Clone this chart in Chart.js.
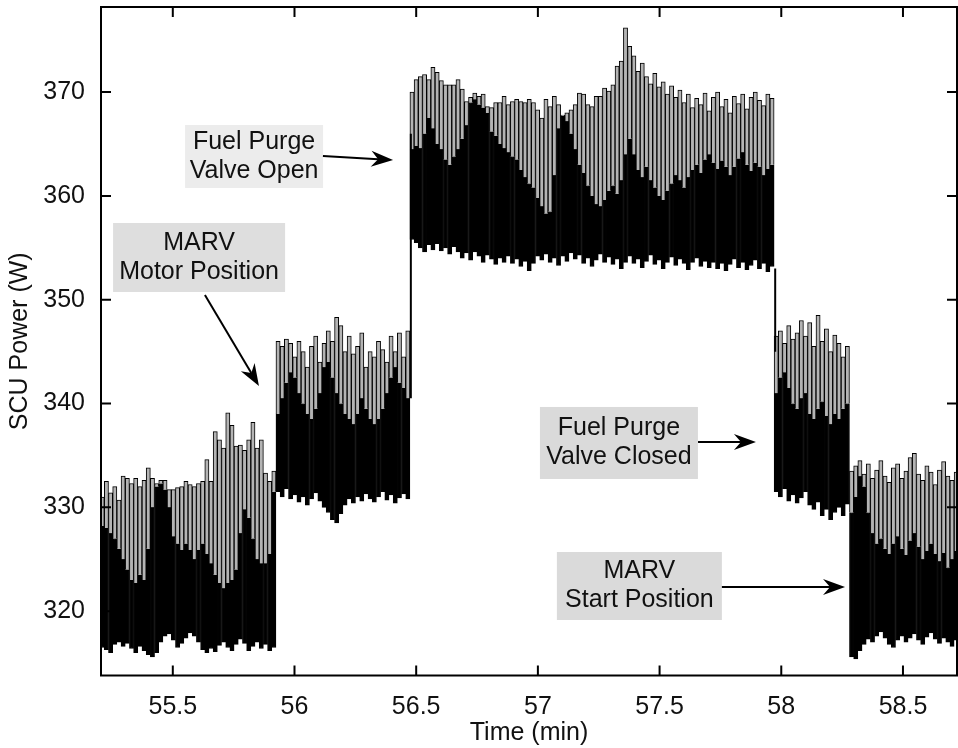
<!DOCTYPE html>
<html><head><meta charset="utf-8">
<script src="https://cdn.jsdelivr.net/npm/chart.js@4/dist/chart.umd.min.js"></script>
<style>html,body{margin:0;padding:0;background:#fff;}#wrap{width:958px;height:748px;}</style>
</head><body><div id="wrap"><canvas id="c" width="958" height="748"></canvas></div>
<script>
// Sampling grid of the recorded signal (minutes)
const T_START = 55.21;
const T_STEP = 0.0172;

// Axis ticks
const X_TICKS = [55.5, 56, 56.5, 57, 57.5, 58, 58.5];
const Y_TICKS = [320, 330, 340, 350, 360, 370];

// Peak of each spike (W)
const spikeTop = [
  // MARV start position
  331.0,332.5,331.4,332.0,330.7,333.0,332.8,332.3,332.8,332.0,332.6,333.8,332.8,332.3,332.6,332.6,331.7,331.7,331.9,332.0,
  332.5,332.2,332.0,332.3,332.5,334.6,332.5,337.3,336.5,335.7,339.1,337.9,335.9,336.0,335.5,336.5,338.2,335.7,336.5,333.3,
  332.5,333.5,
  // MARV motor position
  346.0,345.5,346.2,345.8,344.5,346.0,345.0,343.5,345.5,346.5,344.0,345.8,347.0,346.0,348.3,347.5,345.0,346.5,344.8,345.5,
  346.8,343.5,345.0,344.5,346.0,345.2,344.0,346.5,345.0,346.8,344.5,347.0,
  // fuel purge valve open
  370.0,
  371.2,371.5,371.7,371.2,372.4,371.9,371.1,370.7,370.7,370.7,371.2,370.3,369.1,369.5,369.9,369.6,369.8,368.6,368.5,369.0,
  369.0,369.6,368.8,369.1,369.3,369.1,369.0,369.3,369.0,368.3,367.5,369.3,368.6,369.6,368.8,367.8,368.0,368.3,368.8,369.9,
  369.8,368.8,368.6,369.6,369.6,370.4,370.1,370.7,372.5,373.0,376.2,374.4,
  373.5,372.0,372.8,371.5,370.8,371.8,370.5,371.0,369.8,370.6,369.5,370.2,369.0,369.8,368.5,369.4,368.8,369.9,368.2,369.5,
  370.0,368.6,369.3,368.0,369.6,368.9,369.8,368.4,369.5,370.0,369.2,368.7,369.8,369.4,
  // fuel purge valve closed
  346.5,347.0,345.8,347.5,346.2,346.8,348.0,346.5,347.8,345.5,348.5,346.0,347.2,345.0,346.6,345.8,344.5,345.5,
  // MARV start position
  333.5,334.0,334.5,333.2,334.2,332.8,333.6,334.5,333.0,332.4,333.8,334.2,332.8,333.5,334.8,335.2,333.2,332.6,334.0,333.4,
  332.2,333.6,334.4,333.0,332.6,333.4
];

// Upper edge of the dense (solid) part of the trace (W)
const bandTop = [
  328.2,328.0,327.5,327.0,326.0,325.0,324.0,323.0,322.7,323.5,323.0,326.0,330.0,332.0,332.3,331.7,330.0,327.2,326.5,325.9,
  326.5,325.9,325.0,325.9,326.5,325.5,324.6,323.5,322.7,322.2,322.7,323.0,324.0,327.5,329.8,329.0,327.0,325.0,324.6,324.6,
  325.5,331.5,
  339.0,340.5,342.0,343.0,342.5,341.0,340.0,339.0,338.5,339.5,341.0,343.5,344.0,342.5,341.0,340.0,339.0,338.5,338.0,339.0,
  340.5,339.5,338.5,338.0,338.5,339.5,341.0,342.5,343.5,342.0,341.5,340.5,
  364.5,364.8,364.6,366.0,367.5,366.5,365.0,364.5,363.5,363.0,363.8,364.5,365.5,366.8,369.0,369.3,368.8,368.5,368.0,366.2,
  365.8,365.0,364.6,364.2,363.8,363.5,362.5,361.8,361.2,360.8,359.8,359.0,358.3,358.5,362.0,366.5,367.7,367.2,366.0,364.5,
  363.0,362.2,361.0,360.0,359.2,359.0,359.6,360.5,361.0,360.2,361.5,364.0,365.5,364.0,362.5,361.8,362.8,361.5,360.8,360.0,
  359.6,360.5,361.2,362.0,361.5,360.8,361.8,362.5,363.0,362.2,363.5,364.0,363.2,362.6,363.4,362.8,362.0,362.8,363.6,364.2,
  363.0,362.4,363.2,362.8,362.0,362.6,363.0,
  341.0,342.5,343.0,341.5,340.0,339.5,340.5,341.0,339.0,338.5,339.5,340.2,338.8,338.0,339.0,338.5,339.5,340.0,
  329.5,331.0,333.0,332.0,329.5,327.5,326.5,327.0,326.0,325.5,326.5,327.2,326.0,325.4,326.8,327.5,326.2,325.0,325.8,326.5,
  325.5,324.8,325.6,324.2,325.0,325.8
];

// Lower edge of the trace (W)
const bandLow = [
  316.5,316.3,316.0,316.8,317.0,316.6,316.9,316.4,316.0,316.6,316.2,315.8,315.6,316.0,317.0,317.6,317.8,317.2,316.5,316.9,
  317.4,317.9,317.6,317.0,316.3,316.0,316.4,316.1,316.7,317.0,316.5,316.2,316.8,317.3,316.9,316.2,316.6,317.0,316.4,316.8,
  316.2,316.5,
  331.5,331.0,331.8,330.8,331.2,330.5,331.0,330.2,330.8,331.4,330.6,330.0,329.5,328.8,328.5,329.4,330.2,330.8,330.4,331.0,
  330.6,331.3,330.8,330.5,331.0,331.5,330.7,331.2,330.4,330.9,331.3,330.8,
  355.8,355.5,355.0,354.6,355.3,354.8,355.4,354.7,355.0,354.4,355.1,354.6,354.0,354.5,353.8,354.6,354.2,353.6,354.3,353.9,
  353.4,354.0,353.6,354.2,353.5,353.9,353.2,353.7,352.8,353.5,354.2,353.8,354.4,353.6,354.0,353.3,354.2,353.7,354.5,353.9,
  354.3,353.5,354.0,353.2,353.8,354.4,353.6,354.1,353.4,353.9,353.0,353.6,354.2,353.5,353.9,353.1,353.7,354.3,353.4,353.8,
  353.0,353.6,354.1,353.3,353.9,353.5,352.9,353.6,354.0,353.2,353.7,353.1,353.6,353.0,353.5,352.8,353.4,353.9,353.1,353.6,
  352.9,353.3,353.8,353.0,353.5,352.7,353.2,
  331.5,331.0,331.8,330.6,331.2,330.4,330.9,331.5,330.2,329.8,330.5,329.2,329.8,328.8,329.5,330.0,329.2,330.3,
  315.6,315.4,316.2,316.8,317.3,317.0,317.6,318.0,317.4,316.8,316.5,317.2,317.6,317.0,317.4,317.8,317.2,316.8,317.5,317.9,
  317.3,316.9,317.4,317.0,316.6,317.2
];

// Step transitions of the trace (time, from, to)
const jumpTimes = [56.478, 57.975];
const jumpFrom = [340.5, 353.0];
const jumpTo = [366.0, 345.0];

// Annotations (anchored in data units)
const NOTES = [
  {lines:['Fuel Purge','Valve Open'], at:[55.834,363.8], size:[138,63], fill:'#ececec', from:[56.117,363.85], to:[56.405,363.46]},
  {lines:['MARV','Motor Position'], at:[55.608,354.07], size:[172,69], fill:'#dedede', from:[55.632,350.45], to:[55.854,341.69]},
  {lines:['Fuel Purge','Valve Closed'], at:[57.333,336.2], size:[158,72], fill:'#dadada', from:[57.658,336.29], to:[57.896,336.29]},
  {lines:['MARV','Start Position'], at:[57.417,322.42], size:[165,68], fill:'#dadada', from:[57.756,322.32], to:[58.262,322.32]}
];

const time = spikeTop.map((_, i) => +(T_START + i * T_STEP).toFixed(4));
const bandData = time.map((t, i) => ({x: t, y: [bandLow[i], bandTop[i]]}));
const spikeData = time.map((t, i) => ({x: t, y: [bandTop[i], spikeTop[i]]}));
const jumpData = [];
jumpTimes.forEach((t, i) => { jumpData.push({x: t, y: jumpFrom[i]}, {x: t, y: jumpTo[i]}, {x: t, y: null}); });

const FONT = '"Liberation Sans", Arial, Helvetica, sans-serif';

const framePlugin = {
  id: 'frame',
  afterDatasetsDraw(chart) {
    const {ctx, chartArea: a, scales: {x, y}} = chart;
    ctx.save();
    ctx.strokeStyle = '#000';
    ctx.lineWidth = 2;
    ctx.beginPath();
    X_TICKS.forEach(v => {
      const px = x.getPixelForValue(v);
      ctx.moveTo(px, a.bottom); ctx.lineTo(px, a.bottom - 10);
      ctx.moveTo(px, a.top); ctx.lineTo(px, a.top + 10);
    });
    Y_TICKS.forEach(v => {
      const py = y.getPixelForValue(v);
      ctx.moveTo(a.left, py); ctx.lineTo(a.left + 10, py);
      ctx.moveTo(a.right, py); ctx.lineTo(a.right - 10, py);
    });
    ctx.stroke();
    ctx.strokeRect(a.left, a.top, a.right - a.left, a.bottom - a.top);
    ctx.restore();
  }
};

const notesPlugin = {
  id: 'notes',
  afterDraw(chart) {
    const {ctx, scales: {x, y}} = chart;
    ctx.save();
    NOTES.forEach(n => {
      const cx = x.getPixelForValue(n.at[0]), cy = y.getPixelForValue(n.at[1]);
      ctx.fillStyle = n.fill;
      ctx.fillRect(cx - n.size[0] / 2, cy - n.size[1] / 2, n.size[0], n.size[1]);
      ctx.fillStyle = '#111';
      ctx.font = '25px ' + FONT;
      ctx.textAlign = 'center';
      ctx.textBaseline = 'middle';
      n.lines.forEach((s, k) => ctx.fillText(s, cx, cy + (k - (n.lines.length - 1) / 2) * 29));
      const x0 = x.getPixelForValue(n.from[0]), y0 = y.getPixelForValue(n.from[1]);
      const x1 = x.getPixelForValue(n.to[0]), y1 = y.getPixelForValue(n.to[1]);
      const ang = Math.atan2(y1 - y0, x1 - x0);
      const L = 22, W = 8, N = 7;
      const cos = Math.cos(ang), sin = Math.sin(ang);
      ctx.strokeStyle = '#000';
      ctx.lineWidth = 2;
      ctx.beginPath();
      ctx.moveTo(x0, y0);
      ctx.lineTo(x1 - cos * (L - N), y1 - sin * (L - N));
      ctx.stroke();
      ctx.fillStyle = '#000';
      ctx.beginPath();
      ctx.moveTo(x1, y1);
      ctx.lineTo(x1 - cos * L - sin * W, y1 - sin * L + cos * W);
      ctx.lineTo(x1 - cos * (L - N), y1 - sin * (L - N));
      ctx.lineTo(x1 - cos * L + sin * W, y1 - sin * L - cos * W);
      ctx.closePath();
      ctx.fill();
    });
    ctx.restore();
  }
};

new Chart(document.getElementById('c'), {
  type: 'bar',
  data: {
    datasets: [
      {type: 'line', data: jumpData, borderColor: '#000', borderWidth: 2, pointRadius: 0, spanGaps: false, order: 0, clip: 0},
      {type: 'bar', data: spikeData, backgroundColor: '#b4b4b4', borderColor: '#000',
       borderWidth: {left: 1, right: 1, top: 1, bottom: 0}, borderSkipped: false,
       barPercentage: 1, categoryPercentage: 1, grouped: false, order: 1, clip: 0},
      {type: 'bar', data: bandData, backgroundColor: '#000', borderColor: '#000', borderWidth: 1, borderSkipped: false,
       barPercentage: 1, categoryPercentage: 1, grouped: false, order: 2, clip: 0}
    ]
  },
  options: {
    responsive: false,
    devicePixelRatio: 1,
    animation: false,
    layout: {padding: {top: 7, right: 1, left: 0, bottom: 0}},
    plugins: {legend: {display: false}, tooltip: {enabled: false}},
    scales: {
      x: {
        type: 'linear', min: 55.205, max: 58.722, offset: false,
        grid: {display: false}, border: {display: false},
        afterBuildTicks: ax => { ax.ticks = X_TICKS.map(v => ({value: v})); },
        afterFit: ax => { ax.height = 72.5; ax.paddingLeft = 0; ax.paddingRight = 0; },
        ticks: {color: '#111', font: {family: FONT, size: 25}, padding: 9, maxRotation: 0, autoSkip: false,
                callback: v => String(v)},
        title: {display: true, text: 'Time (min)', color: '#111', font: {family: FONT, size: 25}, padding: {top: 0, bottom: 0}}
      },
      y: {
        type: 'linear', min: 313.8, max: 378.2, beginAtZero: false,
        grid: {display: false}, border: {display: false},
        afterBuildTicks: ax => { ax.ticks = Y_TICKS.map(v => ({value: v})); },
        afterFit: ax => { ax.width = 101; ax.paddingTop = 0; ax.paddingBottom = 0; },
        ticks: {color: '#111', font: {family: FONT, size: 25}, padding: 8, callback: v => String(v)},
        title: {display: true, text: 'SCU Power (W)', color: '#111', font: {family: FONT, size: 25}, padding: {top: 5, bottom: 0}}
      }
    }
  },
  plugins: [framePlugin, notesPlugin]
});
</script>
</body></html>
